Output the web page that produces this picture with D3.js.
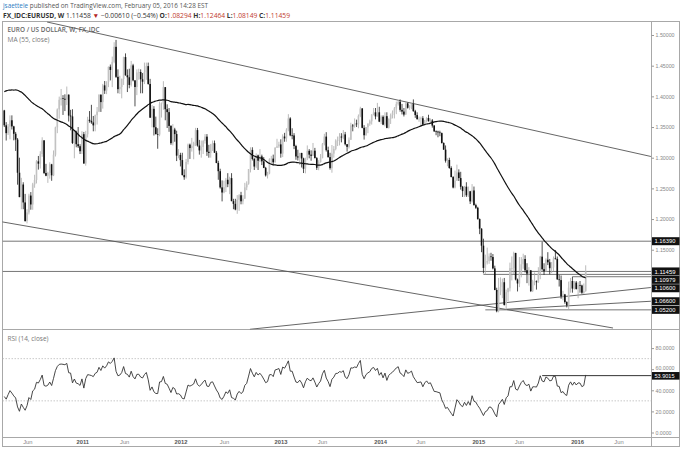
<!DOCTYPE html>
<html><head><meta charset="utf-8">
<script src="https://cdn.jsdelivr.net/npm/d3@7/dist/d3.min.js"></script>
<style>html,body{margin:0;padding:0;background:#fff}svg{display:block}</style>
</head><body>
<svg id="chart" width="680" height="449"></svg>
<script>
// ---------------- DATA ----------------
// Weekly closes before the first visible bar (needed for MA(55) and RSI(14) warm-up)
const preCloses = [1.2660,1.2917,1.3582,1.3280,1.3482,1.3219,1.3023,1.3259,1.3277,1.3657,
1.3515,1.4003,1.4150,1.3956,1.3995,1.3935,1.4035,1.3989,1.3947,1.4155,
1.4214,1.4256,1.4186,1.4202,1.4327,1.4340,1.4314,1.4570,1.4697,1.4677,
1.4573,1.4721,1.4968,1.5010,1.4722,1.4854,1.4897,1.4867,1.4977,1.4862,
1.4572,1.4337,1.4385,1.4321,1.4411,1.4385,1.4140,1.3866,1.3675,1.3627,
1.3612,1.3629,1.3627,1.3770];
const firstWeek = "2010-03-15";
// visible weekly bars (open = previous weekly close)
const closes = [
// 2010
1.3528,1.3400,1.3507,1.3610,1.3510,1.3390,1.3295,1.2755,1.2358,1.2563,1.2271,1.1967,1.2108,1.2383,1.2238,1.2565,1.2637,1.2940,1.2903,1.3061,1.3283,1.2751,1.2706,1.2752,1.2892,1.2713,1.3049,1.3494,1.3788,1.3944,1.3970,1.3960,1.3946,1.4028,1.3686,1.3673,1.3240,1.3422,1.3220,1.3187,1.3106,1.3383,
// 2011
1.2905,1.3381,1.3618,1.3600,1.3575,1.3527,1.3693,1.3751,1.4025,1.3906,1.4179,1.4095,1.4232,1.4482,1.4430,1.4562,1.4807,1.4318,1.4117,1.4153,1.4284,1.4640,1.4344,1.4311,1.4186,1.4505,1.4261,1.4152,1.4389,1.4397,1.4278,1.4239,1.4393,1.4493,1.4202,1.3652,1.3796,1.3496,1.3384,1.3377,1.3874,1.3892,1.4150,1.3790,1.3743,1.3518,1.3237,1.3459,1.3385,1.3033,1.3045,1.2961,
// 2012
1.2717,1.2682,1.2931,1.3213,1.3157,1.3194,1.3242,1.3450,1.3198,1.3119,1.3175,1.3272,1.3343,1.3096,1.3078,1.3218,1.3236,1.3081,1.2914,1.2780,1.2516,1.2433,1.2518,1.2640,1.2568,1.2667,1.2292,1.2248,1.2156,1.2315,1.2388,1.2289,1.2333,1.2517,1.2576,1.2815,1.3127,1.2979,1.2856,1.3037,1.2951,1.3021,1.2941,1.2834,1.2712,1.2744,1.2973,1.2985,1.2925,1.3163,1.3185,1.3217,
// 2013
1.3067,1.3345,1.3315,1.3457,1.3640,1.3364,1.3363,1.3190,1.3020,1.3004,1.3077,1.2987,1.2820,1.2994,1.3112,1.3050,1.3031,1.3114,1.2993,1.2835,1.2929,1.2996,1.3220,1.3344,1.3123,1.3010,1.2830,1.3067,1.3142,1.3278,1.3284,1.3344,1.3330,1.3380,1.3220,1.3177,1.3292,1.3524,1.3520,1.3557,1.3545,1.3682,1.3802,1.3487,1.3366,1.3498,1.3555,1.3593,1.3703,1.3739,1.3673,1.3740,
// 2014
1.3588,1.3667,1.3539,1.3677,1.3486,1.3633,1.3694,1.3737,1.3803,1.3873,1.3912,1.3780,1.3752,1.3703,1.3886,1.3813,1.3833,1.3873,1.3758,1.3695,1.3629,1.3635,1.3643,1.3541,1.3609,1.3646,1.3594,1.3607,1.3524,1.3430,1.3426,1.3412,1.3401,1.3240,1.3131,1.2951,1.2963,1.2832,1.2685,1.2514,1.2628,1.2760,1.2668,1.2526,1.2456,1.2527,1.2387,1.2452,1.2288,1.2466,1.2227,1.2184,
// 2015
1.2000,1.1843,1.1566,1.1204,1.1291,1.1315,1.1391,1.1381,1.1196,1.0844,1.0497,1.0818,1.0890,1.0970,1.0600,1.0808,1.0872,1.1200,1.1200,1.1447,1.1014,1.0950,1.1112,1.1263,1.1349,1.1166,1.1110,1.1163,1.0826,1.0982,1.0985,1.0970,1.1106,1.1387,1.1183,1.1150,1.1337,1.1295,1.1199,1.1210,1.1359,1.1350,1.1017,1.1005,1.0740,1.0771,1.0647,1.0594,1.0882,1.0990,1.0866,1.0965,1.0860,
// 2016
1.0924,1.0917,1.0799,1.0829,1.1146];
const highs = [
1.3780,1.3580,1.3550,1.3690,1.3690,1.3520,1.3420,1.3320,1.3000,1.2672,1.2600,1.2410,1.2160,1.2412,1.2440,1.2590,1.2722,1.2960,1.3028,1.3106,1.3333,1.3283,1.2900,1.2770,1.2925,1.2900,1.3118,1.3506,1.3803,1.3996,1.4120,1.4020,1.4033,1.4160,1.4030,1.3780,1.3790,1.3440,1.3440,1.3500,1.3220,1.3433,
1.3420,1.3438,1.3667,1.3760,1.3862,1.3680,1.3703,1.3826,1.4035,1.4036,1.4203,1.4250,1.4246,1.4486,1.4519,1.4648,1.4882,1.4920,1.4440,1.4335,1.4290,1.4646,1.4700,1.4440,1.4450,1.4577,1.4530,1.4260,1.4440,1.4450,1.4440,1.4380,1.4550,1.4550,1.4550,1.4285,1.3860,1.3840,1.3670,1.3480,1.3915,1.3900,1.4247,1.4150,1.3870,1.3810,1.3530,1.3548,1.3487,1.3440,1.3140,1.3080,
1.3080,1.2810,1.2980,1.3230,1.3230,1.3323,1.3260,1.3486,1.3485,1.3290,1.3280,1.3290,1.3385,1.3385,1.3210,1.3225,1.3280,1.3280,1.3110,1.2950,1.2820,1.2630,1.2625,1.2670,1.2748,1.2690,1.2748,1.2330,1.2330,1.2390,1.2405,1.2443,1.2390,1.2590,1.2615,1.2815,1.3170,1.3170,1.3000,1.3070,1.3050,1.3140,1.3050,1.3010,1.2850,1.2770,1.2990,1.3030,1.3050,1.3170,1.3308,1.3260,
1.3300,1.3380,1.3405,1.3480,1.3710,1.3660,1.3480,1.3400,1.3210,1.3130,1.3080,1.3080,1.3000,1.3000,1.3200,1.3140,1.3120,1.3240,1.3160,1.3010,1.2960,1.3060,1.3240,1.3390,1.3416,1.3180,1.3080,1.3207,1.3190,1.3300,1.3345,1.3400,1.3400,1.3450,1.3420,1.3220,1.3330,1.3570,1.3550,1.3640,1.3620,1.3705,1.3830,1.3810,1.3530,1.3500,1.3560,1.3620,1.3710,1.3810,1.3810,1.3893,
1.3830,1.3690,1.3690,1.3740,1.3740,1.3640,1.3720,1.3770,1.3825,1.3915,1.3940,1.3950,1.3877,1.3810,1.3905,1.3900,1.3855,1.3890,1.3950,1.3780,1.3740,1.3670,1.3670,1.3677,1.3615,1.3660,1.3700,1.3640,1.3630,1.3530,1.3445,1.3440,1.3440,1.3410,1.3250,1.3200,1.2990,1.3000,1.2860,1.2700,1.2790,1.2887,1.2810,1.2770,1.2540,1.2540,1.2600,1.2530,1.2460,1.2570,1.2530,1.2250,
1.2200,1.2010,1.1850,1.1680,1.1420,1.1534,1.1440,1.1450,1.1430,1.1240,1.0880,1.1040,1.1050,1.1030,1.1040,1.0850,1.0880,1.1290,1.1390,1.1468,1.1450,1.1030,1.1380,1.1380,1.1435,1.1410,1.1280,1.1215,1.1170,1.1010,1.1130,1.1000,1.1215,1.1400,1.1630,1.1280,1.1360,1.1460,1.1350,1.1300,1.1390,1.1495,1.1390,1.1090,1.1080,1.0830,1.0780,1.0660,1.0980,1.1040,1.1060,1.0990,1.0990,
1.0970,1.0990,1.0930,1.0950,1.1246];
const lows = [
1.3500,1.3280,1.3370,1.3300,1.3460,1.3283,1.3110,1.2560,1.2356,1.2160,1.2160,1.1959,1.1930,1.2075,1.2152,1.2151,1.2510,1.2580,1.2806,1.2823,1.3015,1.2733,1.2698,1.2589,1.2658,1.2624,1.2700,1.3020,1.3400,1.3636,1.3850,1.3697,1.3760,1.3858,1.3590,1.3447,1.3223,1.2990,1.3170,1.3160,1.3060,1.3060,
1.2903,1.2870,1.3330,1.3570,1.3552,1.3430,1.3430,1.3540,1.3743,1.3746,1.3800,1.4040,1.4036,1.4150,1.4260,1.4150,1.4540,1.4300,1.4050,1.4040,1.3968,1.4186,1.4336,1.4070,1.4132,1.4160,1.4245,1.3837,1.4020,1.4270,1.4050,1.4050,1.4200,1.4270,1.4190,1.3650,1.3495,1.3362,1.3380,1.3146,1.3350,1.3655,1.3780,1.3610,1.3484,1.3422,1.3210,1.3200,1.3260,1.2945,1.2990,1.2858,
1.2710,1.2640,1.2660,1.2890,1.2980,1.3100,1.2974,1.3190,1.3180,1.3050,1.3000,1.3060,1.3230,1.3030,1.3000,1.3000,1.3110,1.3080,1.2910,1.2640,1.2496,1.2288,1.2420,1.2440,1.2520,1.2406,1.2290,1.2160,1.2143,1.2085,1.2133,1.2240,1.2240,1.2330,1.2470,1.2560,1.2760,1.2955,1.2800,1.2830,1.2800,1.2930,1.2880,1.2830,1.2693,1.2661,1.2730,1.2900,1.2878,1.2920,1.3160,1.3160,
1.3000,1.3010,1.3260,1.3260,1.3430,1.3350,1.3300,1.3140,1.2966,1.2954,1.2880,1.2840,1.2750,1.2745,1.2960,1.2990,1.2950,1.3030,1.2990,1.2800,1.2796,1.2920,1.2990,1.3200,1.3100,1.3000,1.2805,1.2755,1.3000,1.3120,1.3190,1.3200,1.3250,1.3300,1.3200,1.3100,1.3150,1.3290,1.3430,1.3490,1.3500,1.3480,1.3660,1.3480,1.3295,1.3360,1.3400,1.3520,1.3540,1.3690,1.3625,1.3670,
1.3580,1.3550,1.3530,1.3510,1.3480,1.3475,1.3550,1.3640,1.3640,1.3710,1.3850,1.3750,1.3705,1.3672,1.3700,1.3800,1.3780,1.3790,1.3750,1.3650,1.3620,1.3585,1.3503,1.3530,1.3520,1.3575,1.3590,1.3575,1.3490,1.3420,1.3366,1.3333,1.3350,1.3230,1.3130,1.2920,1.2860,1.2820,1.2680,1.2500,1.2500,1.2620,1.2620,1.2480,1.2360,1.2360,1.2360,1.2360,1.2245,1.2270,1.2220,1.2165,
1.1990,1.1754,1.1460,1.1115,1.1098,1.1260,1.1270,1.1320,1.1180,1.0840,1.0480,1.0480,1.0760,1.0710,1.0590,1.0520,1.0660,1.0820,1.1000,1.1100,1.1000,1.0820,1.0890,1.1050,1.1190,1.1130,1.0955,1.0915,1.0810,1.0810,1.0920,1.0850,1.0960,1.1020,1.1160,1.1090,1.1140,1.1250,1.1100,1.1120,1.1150,1.1340,1.1010,1.0900,1.0700,1.0675,1.0620,1.0560,1.0524,1.0800,1.0800,1.0850,1.0850,
1.0710,1.0800,1.0780,1.0780,1.0815];

// price ticks visible on the axis (1.10 and 1.05 are hidden behind the level labels)
const priceTicks = [1.50,1.45,1.40,1.35,1.30,1.25,1.20,1.15];
const rsiTicks = [0,20,40,60,80];
const rsiBands = [70,30];
const timeTickDates = ["2010-06-10","2010-12-30","2011-06-03","2011-12-28","2012-06-06","2013-01-01","2013-06-03","2014-01-04","2014-06-02","2015-01-02","2015-06-01","2016-01-02","2016-06-03"];
const timeTickLabels = ["Jun","2011","Jun","2012","Jun","2013","Jun","2014","Jun","2015","Jun","2016","Jun"];
// drawn trend lines: [startDate, startPrice, endDate, endPrice]
const trendLines = [
  ["2010-08-20",1.5212,"2016-09-29",1.3020],
  ["2010-02-27",1.1960,"2016-05-12",1.0224],
  ["2012-09-08",1.0203,"2016-09-29",1.0884],
  ["2015-04-13",1.0530,"2016-09-29",1.0660]
];
// horizontal levels (null start = full width)
const levelPrices = [1.16390,1.11459,1.10979,1.10600,1.05200];
const levelStarts = [null,null,"2015-01-19","2015-12-14","2015-01-26"];
const axisLabelValues = [1.16390,1.11459,1.10979,1.10600,1.06600,1.05200];
const rsiLevel = 53.9015;
const rsiLevelStart = "2015-08-24";

// ---------------- LAYOUT ----------------
const svg = d3.select("#chart");
const AX = "'Liberation Sans', Arial, sans-serif";
const HF = "'Open Sans', 'Liberation Sans', sans-serif";
const L = 2.5, R = 651.5, T = 21.5, S = 329.5, B = 437.5, BOT = 446.5;
const parse = d3.timeParse("%Y-%m-%d");
const start = parse(firstWeek);

const all = preCloses.concat(closes);
const n0 = preCloses.length;
const bars = closes.map((c, i) => ({
  date: d3.timeWeek.offset(start, i), o: all[n0 + i - 1], c, h: highs[i], l: lows[i]
}));
const ma = bars.map((b, i) => ({date: b.date, v: d3.mean(all.slice(n0 + i - 54, n0 + i + 1))}));
let up = 0, dn = 0; const rsiAll = [];
for (let k = 1; k < all.length; k++) {
  const ch = all[k] - all[k - 1], u = Math.max(ch, 0), d = Math.max(-ch, 0);
  if (k <= 14) { up += u / 14; dn += d / 14; } else { up = (up * 13 + u) / 14; dn = (dn * 13 + d) / 14; }
  rsiAll[k] = k >= 14 ? 100 - 100 / (1 + up / dn) : null;
}
const rsi = bars.map((b, i) => ({date: b.date, v: rsiAll[n0 + i]}));

const x = d3.scaleTime().domain([start, bars[bars.length - 1].date]).range([4.3, 585.7]);
const y = d3.scaleLinear().domain([1.05, 1.5]).range([35 + 0.45 * 613.5, 35]);
const yR = d3.scaleLinear().domain([0, 80]).range([432.5, 348.1]);

const defs = svg.append("defs");
defs.append("clipPath").attr("id", "cm").append("rect").attr("x", L).attr("y", T).attr("width", R - L).attr("height", S - T);
defs.append("clipPath").attr("id", "cr").append("rect").attr("x", L).attr("y", S).attr("width", R - L).attr("height", B - S);

svg.append("rect").attr("width", 680).attr("height", 449).attr("fill", "#fff");

// header
const h1 = svg.append("text").attr("x", 3).attr("y", 8.4).attr("font-family", HF).attr("font-size", 6.6)
  .attr("textLength", 205).attr("lengthAdjust", "spacingAndGlyphs");
h1.append("tspan").attr("fill", "#2e7bbf").text("jsaettele");
h1.append("tspan").attr("fill", "#555").text(" published on TradingView.com, February 05, 2016 14:28 EST");
const h2 = svg.append("text").attr("x", 3).attr("y", 17.6).attr("font-family", HF).attr("font-size", 6.6)
  .attr("textLength", 287).attr("lengthAdjust", "spacingAndGlyphs").attr("fill", "#333");
h2.append("tspan").attr("font-weight", "bold").text("FX_IDC:EURUSD, W ");
h2.append("tspan").text("1.11458 ");
h2.append("tspan").attr("fill", "#b3261e").text("▼");
h2.append("tspan").text(" −0.00610 (−0.54%) ");
[["O:", "1.08294"], ["H:", "1.12464"], ["L:", "1.08149"], ["C:", "1.11459"]].forEach(([k, v], i) => {
  h2.append("tspan").attr("font-weight", "bold").text(k);
  h2.append("tspan").attr("fill", "#c0392b").text(v + (i < 3 ? " " : ""));
});

// frame
const fr = svg.append("g").attr("stroke", "#a8a8a8").attr("stroke-width", 1).attr("fill", "none");
fr.append("rect").attr("x", L).attr("y", T).attr("width", 679.5 - L).attr("height", BOT - T);
fr.append("line").attr("x1", L).attr("x2", 679.5).attr("y1", S).attr("y2", S);
fr.append("line").attr("x1", L).attr("x2", 679.5).attr("y1", B).attr("y2", B);
fr.append("line").attr("x1", R).attr("x2", R).attr("y1", T).attr("y2", BOT);

// legends
svg.append("text").attr("x", 7.5).attr("y", 32.3).attr("font-family", HF).attr("font-size", 6.6).attr("font-weight", 600)
  .attr("fill", "#666").attr("textLength", 92).attr("lengthAdjust", "spacingAndGlyphs").text("EURO / US DOLLAR, W, FX_IDC");
svg.append("text").attr("x", 7.5).attr("y", 42.2).attr("font-family", HF).attr("font-size", 6.6)
  .attr("fill", "#777").attr("textLength", 42).attr("lengthAdjust", "spacingAndGlyphs").text("MA (55, close)");
svg.append("text").attr("x", 7.5).attr("y", 340.6).attr("font-family", HF).attr("font-size", 6.6)
  .attr("fill", "#777").attr("textLength", 41).attr("lengthAdjust", "spacingAndGlyphs").text("RSI (14, close)");

// main pane
const gm = svg.append("g").attr("clip-path", "url(#cm)");
levelPrices.forEach((p, i) => {
  const x1 = levelStarts[i] ? x(parse(levelStarts[i])) : L;
  gm.append("line").attr("x1", x1).attr("x2", R).attr("y1", y(p)).attr("y2", y(p))
    .attr("stroke", "#666").attr("stroke-width", 0.9);
});
trendLines.forEach(t => {
  gm.append("line").attr("x1", x(parse(t[0]))).attr("y1", y(t[1])).attr("x2", x(parse(t[2]))).attr("y2", y(t[3]))
    .attr("stroke", "#555").attr("stroke-width", 0.9);
});
const isUp = d => d.c >= d.o;
gm.selectAll("line.wick").data(bars).join("line").attr("class", "wick")
  .attr("x1", d => x(d.date)).attr("x2", d => x(d.date))
  .attr("y1", d => y(d.h)).attr("y2", d => y(d.l))
  .attr("stroke", d => isUp(d) ? "#aaa" : "#222").attr("stroke-width", 0.8);
gm.selectAll("rect.body").data(bars).join("rect").attr("class", "body")
  .attr("x", d => x(d.date) - 0.8).attr("width", 1.6)
  .attr("y", d => y(Math.max(d.o, d.c)))
  .attr("height", d => Math.max(0.7, Math.abs(y(d.o) - y(d.c))))
  .attr("fill", d => isUp(d) ? "#c2c2c2" : "#111");
gm.append("path").datum(ma).attr("fill", "none").attr("stroke", "#111").attr("stroke-width", 1.2)
  .attr("d", d3.line().x(d => x(d.date)).y(d => y(d.v)).curve(d3.curveMonotoneX));

// price axis
const pa = svg.append("g").attr("transform", `translate(${R},0)`)
  .call(d3.axisRight(y).tickValues(priceTicks).tickSize(2.5).tickFormat(d3.format(".5f")));
pa.select(".domain").remove();
pa.selectAll("line").attr("stroke", "#999");
pa.selectAll("text").attr("font-family", AX).attr("font-size", 6).attr("fill", "#888").attr("x", 4)
  .attr("textLength", 19).attr("lengthAdjust", "spacingAndGlyphs");

// price label boxes (stacked so they do not overlap)
let lastY = -1e9;
const boxes = axisLabelValues.slice().sort((a, b) => b - a).map(v => {
  const yy = Math.max(y(v), lastY + 8.4); lastY = yy; return {v, yy};
});
const bx = svg.append("g");
boxes.forEach(b => {
  bx.append("rect").attr("x", R + 0.5).attr("y", b.yy - 4).attr("width", 679 - R).attr("height", 8).attr("fill", "#111");
  bx.append("text").attr("x", R + 3).attr("y", b.yy + 2.2).attr("font-family", AX).attr("font-size", 6.2)
    .attr("fill", "#fff").attr("textLength", 21).attr("lengthAdjust", "spacingAndGlyphs").text(d3.format(".5f")(b.v));
});

// RSI pane
const gr = svg.append("g").attr("clip-path", "url(#cr)");
rsiBands.forEach(v => gr.append("line").attr("x1", L).attr("x2", R).attr("y1", yR(v)).attr("y2", yR(v))
  .attr("stroke", "#bbb").attr("stroke-width", 0.8).attr("stroke-dasharray", "1.5,1.5"));
gr.append("line").attr("x1", x(parse(rsiLevelStart))).attr("x2", R).attr("y1", yR(rsiLevel)).attr("y2", yR(rsiLevel))
  .attr("stroke", "#333").attr("stroke-width", 1);
gr.append("path").datum(rsi).attr("fill", "none").attr("stroke", "#333").attr("stroke-width", 0.9)
  .attr("d", d3.line().x(d => x(d.date)).y(d => yR(d.v)));

const ra = svg.append("g").attr("transform", `translate(${R},0)`)
  .call(d3.axisRight(yR).tickValues(rsiTicks).tickSize(2.5).tickFormat(d3.format(".4f")));
ra.select(".domain").remove();
ra.selectAll("line").attr("stroke", "#999");
ra.selectAll("text").attr("font-family", AX).attr("font-size", 5.6).attr("fill", "#888").attr("x", 4)
  .attr("dy", d => d === 60 ? "0.1em" : "0.32em")
  .attr("textLength", d => d === 0 ? 16 : 19).attr("lengthAdjust", "spacingAndGlyphs");
svg.append("rect").attr("x", R + 0.5).attr("y", yR(rsiLevel) - 3.6).attr("width", 679 - R).attr("height", 7.6).attr("fill", "#111");
svg.append("text").attr("x", R + 3).attr("y", yR(rsiLevel) + 2.2).attr("font-family", AX).attr("font-size", 6.2)
  .attr("fill", "#fff").attr("textLength", 20).attr("lengthAdjust", "spacingAndGlyphs").text(d3.format(".4f")(rsiLevel));

// time axis
const tx = svg.append("g");
timeTickDates.forEach((d, i) => {
  const lab = timeTickLabels[i];
  tx.append("text").attr("x", x(parse(d))).attr("y", 443.8).attr("text-anchor", "middle")
    .attr("font-family", AX).attr("font-size", 5.8).attr("font-weight", lab === "Jun" ? "normal" : "bold")
    .attr("fill", lab === "Jun" ? "#888" : "#555").text(lab);
});
</script>
</body></html>
